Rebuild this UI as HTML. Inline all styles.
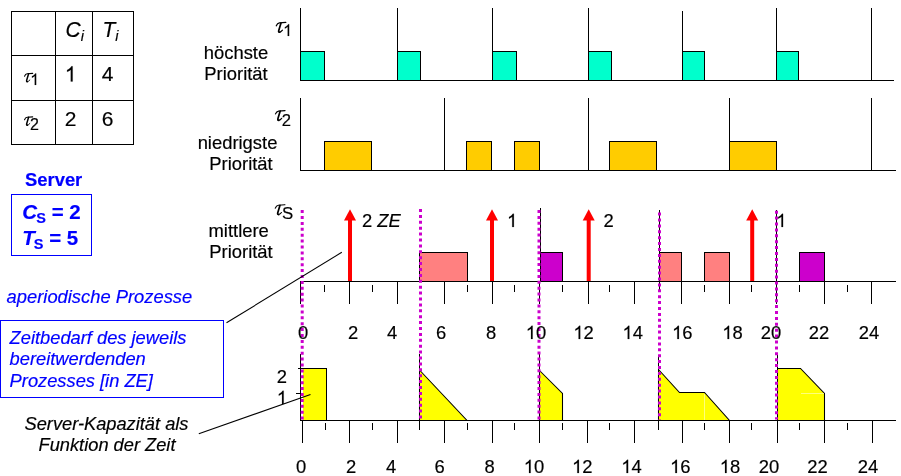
<!DOCTYPE html>
<html>
<head>
<meta charset="utf-8">
<title>Server scheduling</title>
<style>
html,body{margin:0;padding:0;background:#fff;}
body{width:901px;height:476px;overflow:hidden;font-family:"Liberation Sans",sans-serif;}
svg{display:block;will-change:transform;}
text{white-space:pre;}
</style>
</head>
<body>
<svg width="901" height="476" viewBox="0 0 901 476">
<rect x="0" y="0" width="901" height="476" fill="#ffffff"/>
<g shape-rendering="crispEdges">
<rect x="11.5" y="11.5" width="122" height="133" fill="none" stroke="#000"/>
<line x1="55.5" y1="11" x2="55.5" y2="145" stroke="#000" stroke-width="1"/>
<line x1="92.5" y1="11" x2="92.5" y2="145" stroke="#000" stroke-width="1"/>
<line x1="11" y1="55.5" x2="134" y2="55.5" stroke="#000" stroke-width="1"/>
<line x1="11" y1="100.5" x2="134" y2="100.5" stroke="#000" stroke-width="1"/>
<line x1="300.5" y1="8" x2="300.5" y2="81" stroke="#000" stroke-width="1"/>
<line x1="397.5" y1="8" x2="397.5" y2="81" stroke="#000" stroke-width="1"/>
<line x1="492.5" y1="8" x2="492.5" y2="81" stroke="#000" stroke-width="1"/>
<line x1="588.5" y1="8" x2="588.5" y2="81" stroke="#000" stroke-width="1"/>
<line x1="682.5" y1="11" x2="682.5" y2="81" stroke="#000" stroke-width="1"/>
<line x1="776.5" y1="8" x2="776.5" y2="81" stroke="#000" stroke-width="1"/>
<line x1="871.5" y1="8" x2="871.5" y2="81" stroke="#000" stroke-width="1"/>
<rect x="300.5" y="51.5" width="24" height="29" fill="#00ffcc" stroke="#000" stroke-width="1"/>
<rect x="397.5" y="51.5" width="23" height="29" fill="#00ffcc" stroke="#000" stroke-width="1"/>
<rect x="492.5" y="51.5" width="24" height="29" fill="#00ffcc" stroke="#000" stroke-width="1"/>
<rect x="588.5" y="51.5" width="23" height="29" fill="#00ffcc" stroke="#000" stroke-width="1"/>
<rect x="682.5" y="51.5" width="22" height="29" fill="#00ffcc" stroke="#000" stroke-width="1"/>
<rect x="776.5" y="51.5" width="22" height="29" fill="#00ffcc" stroke="#000" stroke-width="1"/>
<line x1="300" y1="80.5" x2="894" y2="80.5" stroke="#000" stroke-width="1"/>
<line x1="300.5" y1="98" x2="300.5" y2="171" stroke="#000" stroke-width="1"/>
<line x1="444.5" y1="98" x2="444.5" y2="171" stroke="#000" stroke-width="1"/>
<line x1="588.5" y1="98" x2="588.5" y2="171" stroke="#000" stroke-width="1"/>
<line x1="729.5" y1="98" x2="729.5" y2="171" stroke="#000" stroke-width="1"/>
<line x1="871.5" y1="98" x2="871.5" y2="171" stroke="#000" stroke-width="1"/>
<rect x="324.5" y="141.5" width="47" height="29" fill="#ffcc00" stroke="#000" stroke-width="1"/>
<rect x="466.5" y="141.5" width="25" height="29" fill="#ffcc00" stroke="#000" stroke-width="1"/>
<rect x="514.5" y="141.5" width="25" height="29" fill="#ffcc00" stroke="#000" stroke-width="1"/>
<rect x="609.5" y="141.5" width="47" height="29" fill="#ffcc00" stroke="#000" stroke-width="1"/>
<rect x="729.5" y="141.5" width="47" height="29" fill="#ffcc00" stroke="#000" stroke-width="1"/>
<line x1="300" y1="170.5" x2="896" y2="170.5" stroke="#000" stroke-width="1"/>
<line x1="300.5" y1="281" x2="300.5" y2="303.5" stroke="#000" stroke-width="1"/>
<line x1="324.5" y1="285" x2="324.5" y2="291.5" stroke="#000" stroke-width="1"/>
<line x1="349.5" y1="281" x2="349.5" y2="303.5" stroke="#000" stroke-width="1"/>
<line x1="372.5" y1="285" x2="372.5" y2="291.5" stroke="#000" stroke-width="1"/>
<line x1="397.5" y1="281" x2="397.5" y2="303.5" stroke="#000" stroke-width="1"/>
<line x1="444.5" y1="281" x2="444.5" y2="303.5" stroke="#000" stroke-width="1"/>
<line x1="467.5" y1="285" x2="467.5" y2="291.5" stroke="#000" stroke-width="1"/>
<line x1="492.5" y1="281" x2="492.5" y2="303.5" stroke="#000" stroke-width="1"/>
<line x1="514.5" y1="285" x2="514.5" y2="291.5" stroke="#000" stroke-width="1"/>
<line x1="539.5" y1="281" x2="539.5" y2="303.5" stroke="#000" stroke-width="1"/>
<line x1="562.5" y1="285" x2="562.5" y2="291.5" stroke="#000" stroke-width="1"/>
<line x1="588.5" y1="281" x2="588.5" y2="303.5" stroke="#000" stroke-width="1"/>
<line x1="609.5" y1="285" x2="609.5" y2="291.5" stroke="#000" stroke-width="1"/>
<line x1="634.5" y1="281" x2="634.5" y2="303.5" stroke="#000" stroke-width="1"/>
<line x1="659.5" y1="281" x2="659.5" y2="290" stroke="#000" stroke-width="1"/>
<line x1="681.5" y1="281" x2="681.5" y2="303.5" stroke="#000" stroke-width="1"/>
<line x1="704.5" y1="285" x2="704.5" y2="291.5" stroke="#000" stroke-width="1"/>
<line x1="729.5" y1="281" x2="729.5" y2="303.5" stroke="#000" stroke-width="1"/>
<line x1="751.5" y1="285" x2="751.5" y2="291.5" stroke="#000" stroke-width="1"/>
<line x1="776.5" y1="281" x2="776.5" y2="303.5" stroke="#000" stroke-width="1"/>
<line x1="799.5" y1="285" x2="799.5" y2="291.5" stroke="#000" stroke-width="1"/>
<line x1="824.5" y1="281" x2="824.5" y2="303.5" stroke="#000" stroke-width="1"/>
<line x1="847.5" y1="285" x2="847.5" y2="291.5" stroke="#000" stroke-width="1"/>
<line x1="871.5" y1="281" x2="871.5" y2="303.5" stroke="#000" stroke-width="1"/>
<rect x="419.5" y="252.5" width="48" height="29" fill="#ff8080" stroke="#000" stroke-width="1"/>
<rect x="540.5" y="252.5" width="22" height="29" fill="#cc00cc" stroke="#000" stroke-width="1"/>
<rect x="659.5" y="252.5" width="22" height="29" fill="#ff8080" stroke="#000" stroke-width="1"/>
<rect x="704.5" y="252.5" width="25" height="29" fill="#ff8080" stroke="#000" stroke-width="1"/>
<rect x="799.5" y="252.5" width="25" height="29" fill="#cc00cc" stroke="#000" stroke-width="1"/>
<line x1="300" y1="281.5" x2="896" y2="281.5" stroke="#000" stroke-width="1"/>
<line x1="302.5" y1="420" x2="302.5" y2="443" stroke="#000" stroke-width="1"/>
<line x1="325.5" y1="423" x2="325.5" y2="430" stroke="#000" stroke-width="1"/>
<line x1="349.5" y1="420" x2="349.5" y2="443" stroke="#000" stroke-width="1"/>
<line x1="372.5" y1="423" x2="372.5" y2="430" stroke="#000" stroke-width="1"/>
<line x1="397.5" y1="420" x2="397.5" y2="443" stroke="#000" stroke-width="1"/>
<line x1="419.5" y1="420" x2="419.5" y2="430" stroke="#000" stroke-width="1"/>
<line x1="444.5" y1="420" x2="444.5" y2="443" stroke="#000" stroke-width="1"/>
<line x1="467.5" y1="423" x2="467.5" y2="430" stroke="#000" stroke-width="1"/>
<line x1="492.5" y1="420" x2="492.5" y2="443" stroke="#000" stroke-width="1"/>
<line x1="514.5" y1="423" x2="514.5" y2="430" stroke="#000" stroke-width="1"/>
<line x1="539.5" y1="420" x2="539.5" y2="443" stroke="#000" stroke-width="1"/>
<line x1="562.5" y1="423" x2="562.5" y2="430" stroke="#000" stroke-width="1"/>
<line x1="587.5" y1="420" x2="587.5" y2="443" stroke="#000" stroke-width="1"/>
<line x1="609.5" y1="423" x2="609.5" y2="430" stroke="#000" stroke-width="1"/>
<line x1="634.5" y1="420" x2="634.5" y2="443" stroke="#000" stroke-width="1"/>
<line x1="658.5" y1="420" x2="658.5" y2="430" stroke="#000" stroke-width="1"/>
<line x1="682.5" y1="420" x2="682.5" y2="443" stroke="#000" stroke-width="1"/>
<line x1="704.5" y1="423" x2="704.5" y2="430" stroke="#000" stroke-width="1"/>
<line x1="729.5" y1="420" x2="729.5" y2="443" stroke="#000" stroke-width="1"/>
<line x1="751.5" y1="423" x2="751.5" y2="430" stroke="#000" stroke-width="1"/>
<line x1="777.5" y1="420" x2="777.5" y2="443" stroke="#000" stroke-width="1"/>
<line x1="799.5" y1="423" x2="799.5" y2="430" stroke="#000" stroke-width="1"/>
<line x1="824.5" y1="420" x2="824.5" y2="443" stroke="#000" stroke-width="1"/>
<line x1="847.5" y1="423" x2="847.5" y2="430" stroke="#000" stroke-width="1"/>
<line x1="872.5" y1="420" x2="872.5" y2="443" stroke="#000" stroke-width="1"/>
</g>
<g stroke="#000" stroke-width="1.05" fill="#ffff00">
<rect x="302.5" y="368.5" width="24" height="52" stroke="none" shape-rendering="crispEdges"/>
<path d="M300,368.5 H326.5 V420.5" fill="none" stroke-width="1" shape-rendering="crispEdges"/>
<polygon points="419.5,370 467,420.5 419.5,420.5"/>
<polygon points="539.5,370.5 562.5,393.5 562.5,420.5 539.5,420.5"/>
<polygon points="658.5,369.5 679.5,392.5 704.5,392.5 729.5,420.5 658.5,420.5"/>
<polygon points="777.5,368.5 800.5,368.5 824.5,393.5 824.5,420.5 777.5,420.5"/>
</g>
<g shape-rendering="crispEdges">
<line x1="300.5" y1="354" x2="300.5" y2="421" stroke="#000" stroke-width="1"/>
<line x1="419.5" y1="354" x2="419.5" y2="421" stroke="#000" stroke-width="1"/>
<line x1="539.5" y1="354" x2="539.5" y2="421" stroke="#000" stroke-width="1"/>
<line x1="658.5" y1="355" x2="658.5" y2="421" stroke="#000" stroke-width="1"/>
<line x1="777.5" y1="354" x2="777.5" y2="421" stroke="#000" stroke-width="1"/>
<line x1="300" y1="420.5" x2="896" y2="420.5" stroke="#000" stroke-width="1"/>
</g>
<g opacity="0.7" shape-rendering="crispEdges">
<line x1="704.5" y1="393.5" x2="704.5" y2="420" stroke="#ffffb0" stroke-width="1"/>
<line x1="801" y1="393.5" x2="824" y2="393.5" stroke="#ffffb0" stroke-width="1"/>
</g>
<g shape-rendering="crispEdges">
<line x1="540.5" y1="208" x2="540.5" y2="282" stroke="#000" stroke-width="1"/>
<line x1="659.5" y1="210" x2="659.5" y2="282" stroke="#000" stroke-width="1"/>
<line x1="776.5" y1="210" x2="776.5" y2="282" stroke="#000" stroke-width="1"/>
</g>
<line x1="302.2" y1="210.1" x2="302.2" y2="419.5" stroke="#cc00cc" stroke-width="3" stroke-dasharray="3 2.9"/>
<line x1="420.5" y1="209.0" x2="420.5" y2="419.5" stroke="#cc00cc" stroke-width="3" stroke-dasharray="3 2.9"/>
<line x1="539.0" y1="210.0" x2="539.0" y2="419.5" stroke="#cc00cc" stroke-width="3" stroke-dasharray="3 2.9"/>
<line x1="659.5" y1="212.6" x2="659.5" y2="419.5" stroke="#cc00cc" stroke-width="3" stroke-dasharray="3 2.9"/>
<line x1="776.5" y1="210.7" x2="776.5" y2="419.5" stroke="#cc00cc" stroke-width="3" stroke-dasharray="3 2.9"/>
<g shape-rendering="crispEdges">
<line x1="298" y1="368.5" x2="301" y2="368.5" stroke="#000" stroke-width="1"/>
<line x1="296" y1="393.5" x2="301" y2="393.5" stroke="#000" stroke-width="1"/>
</g>
<rect x="348" y="219" width="4" height="62" fill="#ff0000"/>
<polygon points="350,209.2 356,220.5 344,220.5" fill="#ff0000"/>
<rect x="490" y="219" width="4" height="62" fill="#ff0000"/>
<polygon points="492,209.2 498,220.5 486,220.5" fill="#ff0000"/>
<rect x="586.7" y="219" width="4" height="62" fill="#ff0000"/>
<polygon points="588.7,209.2 594.7,220.5 582.7,220.5" fill="#ff0000"/>
<rect x="750.2" y="219" width="4" height="62" fill="#ff0000"/>
<polygon points="752.2,209.2 758.2,220.5 746.2,220.5" fill="#ff0000"/>
<line x1="226.5" y1="322.8" x2="341.8" y2="252.3" stroke="#000" stroke-width="1.05" shape-rendering="geometricPrecision"/>
<line x1="198.8" y1="433.8" x2="310.5" y2="394.5" stroke="#000" stroke-width="1.05" shape-rendering="geometricPrecision"/>
<g transform="translate(65.5,36.9) scale(1,1.07)">
<text x="0" y="0" text-anchor="start" fill="#000" stroke="#000" stroke-width="0.18" style="font-family:'Liberation Sans',sans-serif;font-size:21px;" ><tspan font-style="italic">C</tspan><tspan font-style="italic" font-size="14.5" dy="3.4">i</tspan></text>
</g>
<g transform="translate(102.5,36.9) scale(1,1.07)">
<text x="0" y="0" text-anchor="start" fill="#000" stroke="#000" stroke-width="0.18" style="font-family:'Liberation Sans',sans-serif;font-size:21px;" ><tspan font-style="italic">T</tspan><tspan font-style="italic" font-size="14.5" dy="3.4">i</tspan></text>
</g>
<path d="M763 0H583V1147Q518 1085 412.5 1023Q307 961 223 930V1104Q374 1175 487 1276Q600 1377 647 1472H763Z" fill="#000" stroke="#000" stroke-width="17.6" transform="translate(64.8,81.4) scale(0.010254,-0.010254)"/>
<text x="101.8" y="81.4" text-anchor="start" fill="#000" stroke="#000" stroke-width="0.18" style="font-family:'Liberation Sans',sans-serif;font-size:21px;" >4</text>
<text x="64.8" y="125.5" text-anchor="start" fill="#000" stroke="#000" stroke-width="0.18" style="font-family:'Liberation Sans',sans-serif;font-size:21px;" >2</text>
<text x="101.8" y="125.5" text-anchor="start" fill="#000" stroke="#000" stroke-width="0.18" style="font-family:'Liberation Sans',sans-serif;font-size:21px;" >6</text>
<g transform="translate(24.3,82.5) scale(0.86)" fill="none" stroke="#000" stroke-linecap="round" stroke-linejoin="round"><path d="M0.3,-7.3 Q1.3,-9.9 3.4,-10.15 L9.8,-10.65" stroke-width="1.25"/><path d="M5.0,-10.1 L2.75,-2.6 Q2.3,-0.7 3.7,-0.85" stroke-width="1.7"/><path d="M3.0,-0.9 Q5.0,-0.9 6.5,-2.9" stroke-width="1.1"/></g>
<path d="M763 0H583V1147Q518 1085 412.5 1023Q307 961 223 930V1104Q374 1175 487 1276Q600 1377 647 1472H763Z" fill="#000" stroke="#000" stroke-width="23.0" transform="translate(30.2,84.9) scale(0.007812,-0.007812)"/>
<g transform="translate(24.3,126.0) scale(0.86)" fill="none" stroke="#000" stroke-linecap="round" stroke-linejoin="round"><path d="M0.3,-7.3 Q1.3,-9.9 3.4,-10.15 L9.8,-10.65" stroke-width="1.25"/><path d="M5.0,-10.1 L2.75,-2.6 Q2.3,-0.7 3.7,-0.85" stroke-width="1.7"/><path d="M3.0,-0.9 Q5.0,-0.9 6.5,-2.9" stroke-width="1.1"/></g>
<text x="30.0" y="129.7" text-anchor="start" fill="#000" stroke="#000" stroke-width="0.18" style="font-family:'Liberation Sans',sans-serif;font-size:16px;" >2</text>
<text x="25" y="185.7" text-anchor="start" fill="#0000ff" stroke="#0000ff" stroke-width="0.18" style="font-family:'Liberation Sans',sans-serif;font-size:18.4px;font-weight:bold;" >Server</text>
<rect x="11.5" y="194.5" width="80" height="61" fill="none" stroke="#0000ff" shape-rendering="crispEdges"/>
<text x="22.3" y="218.7" text-anchor="start" fill="#0000ff" stroke="#0000ff" stroke-width="0.18" style="font-family:'Liberation Sans',sans-serif;font-size:20.5px;font-weight:bold;" ><tspan font-style="italic">C</tspan><tspan font-size="14.5" dy="4.3" dx="-0.8">S</tspan><tspan dy="-4.3"> = 2</tspan></text>
<text x="22.2" y="244.5" text-anchor="start" fill="#0000ff" stroke="#0000ff" stroke-width="0.18" style="font-family:'Liberation Sans',sans-serif;font-size:20.5px;font-weight:bold;" ><tspan font-style="italic">T</tspan><tspan font-size="14.5" dy="4.3" dx="-0.9">S</tspan><tspan dy="-4.3"> = 5</tspan></text>
<text x="6.6" y="302.7" text-anchor="start" fill="#0000ff" stroke="#0000ff" stroke-width="0.18" style="font-family:'Liberation Sans',sans-serif;font-size:18.35px;font-style:italic;" >aperiodische Prozesse</text>
<rect x="0.5" y="320.5" width="223" height="77" fill="none" stroke="#0000ff" shape-rendering="crispEdges"/>
<text x="9.6" y="344" text-anchor="start" fill="#0000ff" stroke="#0000ff" stroke-width="0.18" style="font-family:'Liberation Sans',sans-serif;font-size:18.3px;font-style:italic;" >Zeitbedarf des jeweils</text>
<text x="9.6" y="365.3" text-anchor="start" fill="#0000ff" stroke="#0000ff" stroke-width="0.18" style="font-family:'Liberation Sans',sans-serif;font-size:18.3px;font-style:italic;" >bereitwerdenden</text>
<text x="9.6" y="386.6" text-anchor="start" fill="#0000ff" stroke="#0000ff" stroke-width="0.18" style="font-family:'Liberation Sans',sans-serif;font-size:18.3px;font-style:italic;" >Prozesses [in ZE]</text>
<text x="106.5" y="429.8" text-anchor="middle" fill="#000" stroke="#000" stroke-width="0.18" style="font-family:'Liberation Sans',sans-serif;font-size:18.25px;font-style:italic;" >Server-Kapazität als</text>
<text x="107" y="450.9" text-anchor="middle" fill="#000" stroke="#000" stroke-width="0.18" style="font-family:'Liberation Sans',sans-serif;font-size:18.25px;font-style:italic;" >Funktion der Zeit</text>
<text x="236" y="58.7" text-anchor="middle" fill="#000" stroke="#000" stroke-width="0.18" style="font-family:'Liberation Sans',sans-serif;font-size:18.4px;" >höchste</text>
<text x="236" y="79.5" text-anchor="middle" fill="#000" stroke="#000" stroke-width="0.18" style="font-family:'Liberation Sans',sans-serif;font-size:18.4px;" >Priorität</text>
<text x="237.5" y="148.7" text-anchor="middle" fill="#000" stroke="#000" stroke-width="0.18" style="font-family:'Liberation Sans',sans-serif;font-size:18.4px;" >niedrigste</text>
<text x="241" y="169.5" text-anchor="middle" fill="#000" stroke="#000" stroke-width="0.18" style="font-family:'Liberation Sans',sans-serif;font-size:18.4px;" >Priorität</text>
<text x="238.7" y="237" text-anchor="middle" fill="#000" stroke="#000" stroke-width="0.18" style="font-family:'Liberation Sans',sans-serif;font-size:18.4px;" >mittlere</text>
<text x="241" y="257.5" text-anchor="middle" fill="#000" stroke="#000" stroke-width="0.18" style="font-family:'Liberation Sans',sans-serif;font-size:18.4px;" >Priorität</text>
<g transform="translate(276,33.1) scale(1.0)" fill="none" stroke="#000" stroke-linecap="round" stroke-linejoin="round"><path d="M0.3,-7.3 Q1.3,-9.9 3.4,-10.15 L9.8,-10.65" stroke-width="1.25"/><path d="M5.0,-10.1 L2.75,-2.6 Q2.3,-0.7 3.7,-0.85" stroke-width="1.7"/><path d="M3.0,-0.9 Q5.0,-0.9 6.5,-2.9" stroke-width="1.1"/></g>
<path d="M763 0H583V1147Q518 1085 412.5 1023Q307 961 223 930V1104Q374 1175 487 1276Q600 1377 647 1472H763Z" fill="#000" stroke="#000" stroke-width="22.8" transform="translate(283.1,35.9) scale(0.007910,-0.007910)"/>
<g transform="translate(275.2,121.2) scale(1.0)" fill="none" stroke="#000" stroke-linecap="round" stroke-linejoin="round"><path d="M0.3,-7.3 Q1.3,-9.9 3.4,-10.15 L9.8,-10.65" stroke-width="1.25"/><path d="M5.0,-10.1 L2.75,-2.6 Q2.3,-0.7 3.7,-0.85" stroke-width="1.7"/><path d="M3.0,-0.9 Q5.0,-0.9 6.5,-2.9" stroke-width="1.1"/></g>
<text x="281.8" y="125.9" text-anchor="start" fill="#000" stroke="#000" stroke-width="0.18" style="font-family:'Liberation Sans',sans-serif;font-size:16.6px;" >2</text>
<g transform="translate(275.0,215.4) scale(1.0)" fill="none" stroke="#000" stroke-linecap="round" stroke-linejoin="round"><path d="M0.3,-7.3 Q1.3,-9.9 3.4,-10.15 L9.8,-10.65" stroke-width="1.25"/><path d="M5.0,-10.1 L2.75,-2.6 Q2.3,-0.7 3.7,-0.85" stroke-width="1.7"/><path d="M3.0,-0.9 Q5.0,-0.9 6.5,-2.9" stroke-width="1.1"/></g>
<text x="282.0" y="219.0" text-anchor="start" fill="#000" stroke="#000" stroke-width="0.18" style="font-family:'Liberation Sans',sans-serif;font-size:16.8px;" >S</text>
<text x="362" y="227" text-anchor="start" fill="#000" stroke="#000" stroke-width="0.18" style="font-family:'Liberation Sans',sans-serif;font-size:18.4px;" >2 <tspan font-style="italic">ZE</tspan></text>
<path d="M763 0H583V1147Q518 1085 412.5 1023Q307 961 223 930V1104Q374 1175 487 1276Q600 1377 647 1472H763Z" fill="#000" stroke="#000" stroke-width="20.0" transform="translate(507,227) scale(0.008984,-0.008984)"/>
<text x="603.5" y="227" text-anchor="start" fill="#000" stroke="#000" stroke-width="0.18" style="font-family:'Liberation Sans',sans-serif;font-size:18.4px;" >2</text>
<path d="M763 0H583V1147Q518 1085 412.5 1023Q307 961 223 930V1104Q374 1175 487 1276Q600 1377 647 1472H763Z" fill="#000" stroke="#000" stroke-width="20.0" transform="translate(776.2,227) scale(0.008984,-0.008984)"/>
<text x="276.8" y="383" text-anchor="start" fill="#000" stroke="#000" stroke-width="0.18" style="font-family:'Liberation Sans',sans-serif;font-size:18.4px;" >2</text>
<path d="M763 0H583V1147Q518 1085 412.5 1023Q307 961 223 930V1104Q374 1175 487 1276Q600 1377 647 1472H763Z" fill="#000" stroke="#000" stroke-width="20.0" transform="translate(276.8,404) scale(0.008984,-0.008984)"/>
<text x="297.88" y="339" text-anchor="start" fill="#000" stroke="#000" stroke-width="0.18" style="font-family:'Liberation Sans',sans-serif;font-size:18.4px;" >0</text>
<text x="347.88" y="339" text-anchor="start" fill="#000" stroke="#000" stroke-width="0.18" style="font-family:'Liberation Sans',sans-serif;font-size:18.4px;" >2</text>
<text x="386.88" y="339" text-anchor="start" fill="#000" stroke="#000" stroke-width="0.18" style="font-family:'Liberation Sans',sans-serif;font-size:18.4px;" >4</text>
<text x="435.88" y="339" text-anchor="start" fill="#000" stroke="#000" stroke-width="0.18" style="font-family:'Liberation Sans',sans-serif;font-size:18.4px;" >6</text>
<text x="485.88" y="339" text-anchor="start" fill="#000" stroke="#000" stroke-width="0.18" style="font-family:'Liberation Sans',sans-serif;font-size:18.4px;" >8</text>
<path d="M763 0H583V1147Q518 1085 412.5 1023Q307 961 223 930V1104Q374 1175 487 1276Q600 1377 647 1472H763Z" fill="#000" stroke="#000" stroke-width="20.0" transform="translate(525.7696,339) scale(0.008984,-0.008984)"/>
<text x="536.0" y="339" text-anchor="start" fill="#000" stroke="#000" stroke-width="0.18" style="font-family:'Liberation Sans',sans-serif;font-size:18.4px;" >0</text>
<path d="M763 0H583V1147Q518 1085 412.5 1023Q307 961 223 930V1104Q374 1175 487 1276Q600 1377 647 1472H763Z" fill="#000" stroke="#000" stroke-width="20.0" transform="translate(573.3696,339) scale(0.008984,-0.008984)"/>
<text x="583.6" y="339" text-anchor="start" fill="#000" stroke="#000" stroke-width="0.18" style="font-family:'Liberation Sans',sans-serif;font-size:18.4px;" >2</text>
<path d="M763 0H583V1147Q518 1085 412.5 1023Q307 961 223 930V1104Q374 1175 487 1276Q600 1377 647 1472H763Z" fill="#000" stroke="#000" stroke-width="20.0" transform="translate(622.4696,339) scale(0.008984,-0.008984)"/>
<text x="632.7" y="339" text-anchor="start" fill="#000" stroke="#000" stroke-width="0.18" style="font-family:'Liberation Sans',sans-serif;font-size:18.4px;" >4</text>
<path d="M763 0H583V1147Q518 1085 412.5 1023Q307 961 223 930V1104Q374 1175 487 1276Q600 1377 647 1472H763Z" fill="#000" stroke="#000" stroke-width="20.0" transform="translate(672.0695999999999,339) scale(0.008984,-0.008984)"/>
<text x="682.3" y="339" text-anchor="start" fill="#000" stroke="#000" stroke-width="0.18" style="font-family:'Liberation Sans',sans-serif;font-size:18.4px;" >6</text>
<path d="M763 0H583V1147Q518 1085 412.5 1023Q307 961 223 930V1104Q374 1175 487 1276Q600 1377 647 1472H763Z" fill="#000" stroke="#000" stroke-width="20.0" transform="translate(722.2696,339) scale(0.008984,-0.008984)"/>
<text x="732.5" y="339" text-anchor="start" fill="#000" stroke="#000" stroke-width="0.18" style="font-family:'Liberation Sans',sans-serif;font-size:18.4px;" >8</text>
<text x="760.77" y="339" text-anchor="start" fill="#000" stroke="#000" stroke-width="0.18" style="font-family:'Liberation Sans',sans-serif;font-size:18.4px;" >2</text>
<text x="771.0" y="339" text-anchor="start" fill="#000" stroke="#000" stroke-width="0.18" style="font-family:'Liberation Sans',sans-serif;font-size:18.4px;" >0</text>
<text x="808.77" y="339" text-anchor="start" fill="#000" stroke="#000" stroke-width="0.18" style="font-family:'Liberation Sans',sans-serif;font-size:18.4px;" >2</text>
<text x="819.0" y="339" text-anchor="start" fill="#000" stroke="#000" stroke-width="0.18" style="font-family:'Liberation Sans',sans-serif;font-size:18.4px;" >2</text>
<text x="858.77" y="339" text-anchor="start" fill="#000" stroke="#000" stroke-width="0.18" style="font-family:'Liberation Sans',sans-serif;font-size:18.4px;" >2</text>
<text x="869.0" y="339" text-anchor="start" fill="#000" stroke="#000" stroke-width="0.18" style="font-family:'Liberation Sans',sans-serif;font-size:18.4px;" >4</text>
<text x="296.08" y="473" text-anchor="start" fill="#000" stroke="#000" stroke-width="0.18" style="font-family:'Liberation Sans',sans-serif;font-size:18.4px;" >0</text>
<text x="346.08" y="473" text-anchor="start" fill="#000" stroke="#000" stroke-width="0.18" style="font-family:'Liberation Sans',sans-serif;font-size:18.4px;" >2</text>
<text x="385.88" y="473" text-anchor="start" fill="#000" stroke="#000" stroke-width="0.18" style="font-family:'Liberation Sans',sans-serif;font-size:18.4px;" >4</text>
<text x="434.38" y="473" text-anchor="start" fill="#000" stroke="#000" stroke-width="0.18" style="font-family:'Liberation Sans',sans-serif;font-size:18.4px;" >6</text>
<text x="484.38" y="473" text-anchor="start" fill="#000" stroke="#000" stroke-width="0.18" style="font-family:'Liberation Sans',sans-serif;font-size:18.4px;" >8</text>
<path d="M763 0H583V1147Q518 1085 412.5 1023Q307 961 223 930V1104Q374 1175 487 1276Q600 1377 647 1472H763Z" fill="#000" stroke="#000" stroke-width="20.0" transform="translate(523.7696,473) scale(0.008984,-0.008984)"/>
<text x="534.0" y="473" text-anchor="start" fill="#000" stroke="#000" stroke-width="0.18" style="font-family:'Liberation Sans',sans-serif;font-size:18.4px;" >0</text>
<path d="M763 0H583V1147Q518 1085 412.5 1023Q307 961 223 930V1104Q374 1175 487 1276Q600 1377 647 1472H763Z" fill="#000" stroke="#000" stroke-width="20.0" transform="translate(572.0695999999999,473) scale(0.008984,-0.008984)"/>
<text x="582.3" y="473" text-anchor="start" fill="#000" stroke="#000" stroke-width="0.18" style="font-family:'Liberation Sans',sans-serif;font-size:18.4px;" >2</text>
<path d="M763 0H583V1147Q518 1085 412.5 1023Q307 961 223 930V1104Q374 1175 487 1276Q600 1377 647 1472H763Z" fill="#000" stroke="#000" stroke-width="20.0" transform="translate(621.2696,473) scale(0.008984,-0.008984)"/>
<text x="631.5" y="473" text-anchor="start" fill="#000" stroke="#000" stroke-width="0.18" style="font-family:'Liberation Sans',sans-serif;font-size:18.4px;" >4</text>
<path d="M763 0H583V1147Q518 1085 412.5 1023Q307 961 223 930V1104Q374 1175 487 1276Q600 1377 647 1472H763Z" fill="#000" stroke="#000" stroke-width="20.0" transform="translate(670.0695999999999,473) scale(0.008984,-0.008984)"/>
<text x="680.3" y="473" text-anchor="start" fill="#000" stroke="#000" stroke-width="0.18" style="font-family:'Liberation Sans',sans-serif;font-size:18.4px;" >6</text>
<path d="M763 0H583V1147Q518 1085 412.5 1023Q307 961 223 930V1104Q374 1175 487 1276Q600 1377 647 1472H763Z" fill="#000" stroke="#000" stroke-width="20.0" transform="translate(719.7696,473) scale(0.008984,-0.008984)"/>
<text x="730.0" y="473" text-anchor="start" fill="#000" stroke="#000" stroke-width="0.18" style="font-family:'Liberation Sans',sans-serif;font-size:18.4px;" >8</text>
<text x="758.67" y="473" text-anchor="start" fill="#000" stroke="#000" stroke-width="0.18" style="font-family:'Liberation Sans',sans-serif;font-size:18.4px;" >2</text>
<text x="768.9" y="473" text-anchor="start" fill="#000" stroke="#000" stroke-width="0.18" style="font-family:'Liberation Sans',sans-serif;font-size:18.4px;" >0</text>
<text x="807.27" y="473" text-anchor="start" fill="#000" stroke="#000" stroke-width="0.18" style="font-family:'Liberation Sans',sans-serif;font-size:18.4px;" >2</text>
<text x="817.5" y="473" text-anchor="start" fill="#000" stroke="#000" stroke-width="0.18" style="font-family:'Liberation Sans',sans-serif;font-size:18.4px;" >2</text>
<text x="857.77" y="473" text-anchor="start" fill="#000" stroke="#000" stroke-width="0.18" style="font-family:'Liberation Sans',sans-serif;font-size:18.4px;" >2</text>
<text x="868.0" y="473" text-anchor="start" fill="#000" stroke="#000" stroke-width="0.18" style="font-family:'Liberation Sans',sans-serif;font-size:18.4px;" >4</text>
</svg>
</body>
</html>
